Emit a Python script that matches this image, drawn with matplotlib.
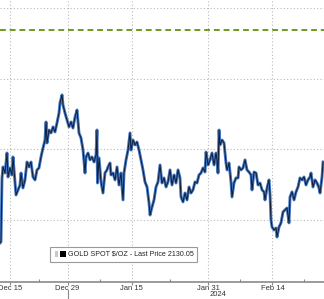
import matplotlib
matplotlib.use("Agg")
import matplotlib.pyplot as plt
from matplotlib.patches import Rectangle

# trading-session index (Dec 13 = 0, weekends/holidays skipped)
session = [0.44, 0.59, 0.75, 0.91, 1.22, 1.53, 1.69, 2.0, 2.31, 2.47, 2.63, 2.94,
           3.25, 3.56, 3.72, 4.03, 4.34, 4.66, 4.97, 5.28, 5.59, 5.91, 6.22, 6.53,
           6.84, 7.16, 7.47, 7.63, 7.78, 8.09, 8.41, 8.72, 9.03, 9.34, 9.66, 9.81,
           10.13, 10.28, 10.59, 10.91, 11.22, 11.53, 11.84, 12.16, 12.47, 12.78, 13.09,
           13.41, 13.72, 13.88, 14.19, 14.5, 14.81, 15.13, 15.44, 15.59, 15.67, 15.91,
           16.22, 16.53, 16.84, 17.16,
           17.31, 17.63, 17.78, 18.09, 18.41, 18.72, 19.03, 19.34, 19.66, 19.81, 20.13,
           20.44, 20.75, 20.91, 21.22, 21.53, 21.84, 22.16, 22.47, 22.78, 23.09, 23.41,
           23.72, 23.88, 24.19, 24.5, 24.81, 25.13, 25.44, 25.75, 26.06, 26.38, 26.69,
           27.0, 27.31, 27.63, 27.94, 28.25, 28.56, 28.72, 29.03, 29.34, 29.66, 29.97,
           30.28, 30.59, 30.91, 31.22, 31.53, 31.84, 32.16, 32.47, 32.63, 32.94, 33.25,
           33.56, 33.88,
           34.19, 34.34, 34.5, 34.66, 34.81, 35.13, 35.44, 35.75, 35.91, 36.22, 36.53,
           36.69, 37.0, 37.31, 37.63, 37.78, 38.09, 38.41, 38.72, 39.03, 39.34, 39.66,
           39.81, 40.13, 40.44, 40.75, 41.06, 41.38, 41.69, 41.84, 42.16, 42.47, 42.63,
           42.78, 42.94, 43.25, 43.56, 43.72, 44.03, 44.34, 44.66, 44.97, 45.28, 45.59,
           45.75, 46.06, 46.38, 46.69, 47.0, 47.31, 47.63, 47.94, 48.25, 48.56, 48.88,
           49.03, 49.34, 49.66, 49.97, 50.28, 50.44, 50.75, 50.91]
price = [1983.7, 1984.4, 2029.8, 2037.6, 2033.3, 2047.5, 2030.5, 2036.9, 2031.9, 2044.7,
         2035.5, 2017.7, 2021.3, 2024.8, 2033.3, 2022.7, 2028.4, 2041.1, 2037.6, 2041.1,
         2030.5, 2028.4, 2035.5, 2036.9, 2044.7, 2051.1, 2056.7, 2069.5, 2054.6, 2063.8,
         2061.7, 2066.0, 2062.4, 2068.8, 2075.9, 2083.0, 2088.7, 2081.6, 2075.9, 2070.9,
         2066.0, 2069.5, 2065.2, 2073.0, 2078.0, 2061.7, 2058.2, 2049.6, 2033.3, 2044.7,
         2047.5, 2042.6, 2044.7, 2041.1, 2046.1, 2063.8, 2026.2, 2044.0, 2027.0, 2019.1,
         2033.3, 2035.5,
         2037.6, 2040.4, 2031.9, 2033.3, 2028.4, 2037.6, 2024.8, 2033.3, 2014.2, 2033.3,
         2042.6, 2049.6, 2061.7, 2049.6, 2056.7, 2053.2, 2055.3, 2049.6, 2042.6, 2035.5,
         2027.0, 2023.4, 2012.1, 2003.5, 2009.2, 2014.2, 2023.4, 2027.0, 2039.0, 2026.2,
         2029.8, 2023.4, 2027.0, 2035.5, 2024.8, 2031.9, 2026.2, 2035.5, 2029.8, 2016.3,
         2012.8, 2019.1, 2014.2, 2023.4, 2019.1, 2021.3, 2027.0, 2026.2, 2031.9, 2033.3,
         2036.9, 2034.0, 2048.2, 2039.0, 2042.6, 2047.5, 2039.0,
         2047.5, 2042.6, 2033.3, 2063.8, 2053.2, 2056.7, 2054.6, 2040.4, 2035.5, 2040.4,
         2027.0, 2016.3, 2026.2, 2029.8, 2029.8, 2037.6, 2035.5, 2036.9, 2042.6, 2035.5,
         2034.0, 2031.9, 2021.3, 2034.0, 2033.3, 2024.8, 2026.2, 2021.3, 2019.9, 2014.2,
         2022.7, 2028.4, 2017.7, 2000.0, 1995.0, 1992.9, 1994.3, 1987.9, 1995.0, 1997.9,
         2005.7, 2007.1, 2008.5, 1997.9, 2016.3, 2019.9, 2014.2, 2019.9, 2023.4, 2029.8,
         2028.4, 2030.5, 2024.8, 2028.4, 2030.5, 2033.3, 2023.4, 2028.4, 2026.2, 2022.7,
         2019.1, 2030.5, 2041.1]

tick_sessions = [2, 11, 21, 33, 43]
tick_labels = ["Dec 15", "Dec 29", "Jan 15", "Jan 31", "Feb 14"]
minor_sessions = [6.5, 16, 27, 38, 48]
y_grid = [2000, 2050, 2100, 2150]
record_high = 2135.0
legend_label = "GOLD SPOT $/OZ - Last Price 2130.05"
year_label = "2024"

FONT = ["Liberation Sans Narrow", "Liberation Sans", "DejaVu Sans"]

W, H = 324, 299
fig = plt.figure(figsize=(W / 100, H / 100), dpi=100)
fig.patch.set_facecolor("white")
ax = fig.add_axes([0, 17 / H, 1, 282 / H])
ax.set_facecolor("white")

ax.set_xlim(0.4375, 51.06)
ax.set_ylim(1956, 2156)

for g in y_grid:
    ax.axhline(g, color="#b8b8b8", lw=0.8, ls=(0, (1, 2)), zorder=1)
for t in tick_sessions:
    ax.axvline(t, color="#b8b8b8", lw=0.8, ls=(0, (1, 2)), zorder=1)

ax.axhline(record_high, color="#6f9a22", lw=1.4, ls=(0, (3, 2)), zorder=2)

ax.plot(session, price, color="#4277c2", lw=2.1, zorder=3)
ax.plot(session, price, color="#111b33", lw=0.7, zorder=4)

for s in ["top", "left", "right"]:
    ax.spines[s].set_visible(False)
ax.spines["bottom"].set_color("#8a8a8a")
ax.spines["bottom"].set_linewidth(1.2)
ax.set_yticks([])
ax.set_xticks(tick_sessions)
ax.set_xticklabels(tick_labels, fontsize=5.5, color="#333333", family=FONT)
ax.set_xticks(minor_sessions, minor=True)
ax.tick_params(axis="x", which="major", length=2, width=0.8, color="#8a8a8a", pad=0.5,
               direction="out")
ax.tick_params(axis="x", which="minor", length=2, width=0.8, color="#8a8a8a",
               direction="in")

# year separator and label
ax.plot([11, 11], [-0.03, -0.062], transform=ax.get_xaxis_transform(),
        color="#8a8a8a", lw=0.8, clip_on=False)
ax.text(34.5, -0.046, year_label, transform=ax.get_xaxis_transform(),
        ha="center", va="center", fontsize=5.5, color="#333333", family=FONT)

# legend box
fig.patches.append(Rectangle((50 / W, 37 / H), 147 / W, 15 / H, transform=fig.transFigure,
                             facecolor="white", edgecolor="#9a9a9a", lw=0.8, zorder=5))
fig.patches.append(Rectangle((55 / W, 42 / H), 3 / W, 6 / H, transform=fig.transFigure,
                             facecolor="#c8c8c8", edgecolor="none", zorder=6))
fig.patches.append(Rectangle((60 / W, 42 / H), 6 / W, 6 / H, transform=fig.transFigure,
                             facecolor="black", edgecolor="none", zorder=6))
fig.text(67.5 / W, 44.8 / H, legend_label, ha="left", va="center", fontsize=5.15,
         color="#222222", zorder=7, family=FONT)

fig.savefig("out.png", dpi=100, facecolor="white")
